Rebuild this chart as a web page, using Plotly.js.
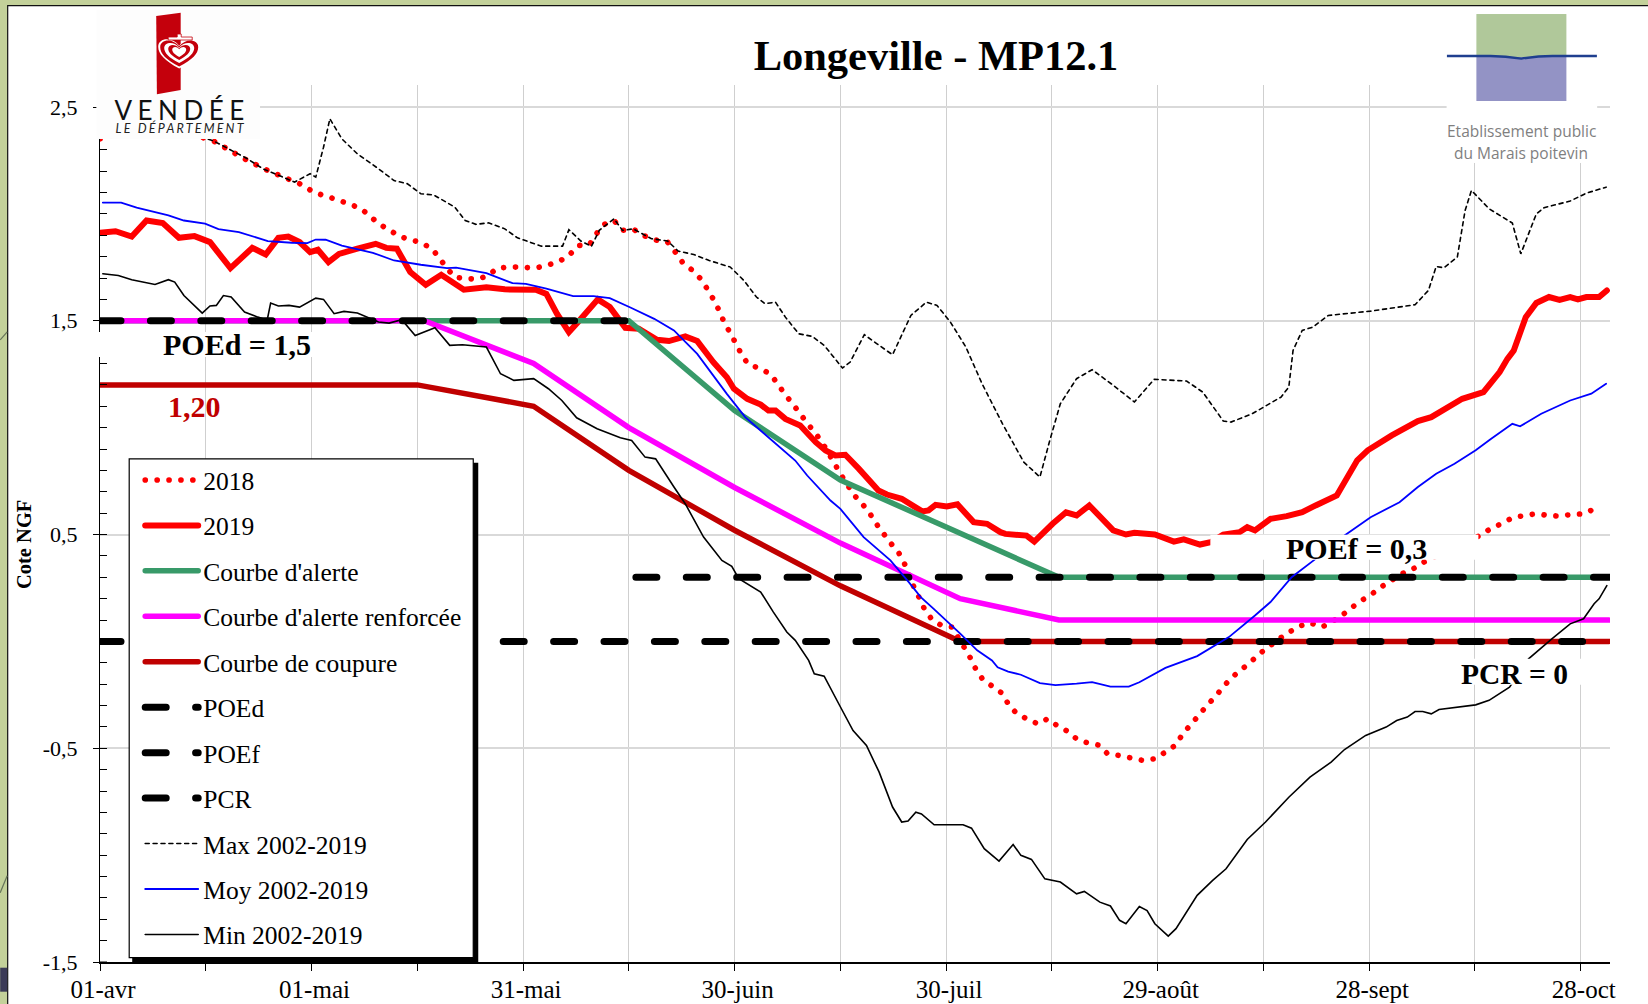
<!DOCTYPE html>
<html><head><meta charset="utf-8">
<script src="https://cdn.plot.ly/plotly-3.0.1.min.js"></script>
<style>
html,body{margin:0;padding:0;background:#C3D19A;overflow:hidden}
#chart{width:1648px;height:1004px}
.js-plotly-plot .plotly path.js-line{stroke-linecap:round}
g.annotation[data-index="5"] text{letter-spacing:5.5px}
g.annotation[data-index="6"] text{letter-spacing:2.2px}
</style></head><body><div id="chart"></div>
<script>
// ---- tick labels ----
const tickDays=[0,15,30,45,60,75,90,105,120,135,150,165,180,195,210];
const tickLabels=['01-avr','','01-mai','','31-mai','','30-juin','','30-juil','','29-août','','28-sept','','28-oct'];
const yTicks=[-1.5,-.5,.5,1.5,2.5];
const yTickLabels=['-1,5','-0,5','0,5','1,5','2,5'];
// ---- series (x = days after 1 April, y = Cote NGF) ----
const days2018=[0,8,16,20.9,23.8,27.2,28.9,30.2,33.5,36.9,38.2,39.5,41,42.5,45.5,47.1,48.2,49.2,50.3,52,53.7,55.1,56.3,58.1,59.8,61.5,63.1,64.8,66.3,67.8,69.4,70.4,71.5,72.9,74.1,75.6,77.3,79,80.5,81.6,82.6,83.9,85.2,86.1,87,87.8,88.5,89.4,90.2,91,91.9,93.6,95.1,96.1,97.1,98.2,99.2,100.3,101.4,102.4,104.2,105,106,106.9,108.1,109.2,110.1,111.1,112.2,113.3,114.1,115.4,116.2,116.9,117.9,119.3,120.8,122.6,123.5,124.3,125.2,126.5,127.9,128.8,129.9,131.4,133,134.4,135.7,137.2,138.6,140.2,141.6,142.9,144.6,146.3,147.9,149.6,151.1,152.6,153.5,154.6,155.8,156.9,158.1,159.2,160.3,161.7,163.1,164.3,165.7,167,168.5,170,171.6,173.3,174.6,176.1,177.6,178.9,180.4,181.8,183.4,184.9,186.5,187.9,195.7,197.2,198.7,200.3,202,203.7,205.4,207,208.7,210.5,212.1];
const level2018=[2.351,2.42,2.343,2.25,2.203,2.156,2.133,2.102,2.068,2.027,1.993,1.954,1.926,1.894,1.866,1.837,1.79,1.746,1.704,1.696,1.696,1.712,1.746,1.751,1.751,1.746,1.756,1.774,1.798,1.852,1.855,1.907,1.951,1.969,1.923,1.929,1.896,1.876,1.868,1.821,1.774,1.739,1.696,1.65,1.6,1.548,1.494,1.442,1.392,1.342,1.297,1.277,1.25,1.205,1.158,1.113,1.069,1.021,.976,.932,.831,.784,.733,.686,.644,.597,.55,.505,.457,.413,.363,.257,.203,.153,.106,.075,.067,-.03,-.081,-.136,-.178,-.209,-.242,-.292,-.334,-.362,-.386,-.362,-.393,-.42,-.459,-.476,-.485,-.526,-.534,-.546,-.557,-.549,-.518,-.484,-.435,-.393,-.347,-.303,-.261,-.217,-.175,-.136,-.1,-.061,-.027,.007,.04,.07,.087,.067,.09,.121,.16,.191,.222,.257,.29,.321,.344,.374,.495,.527,.55,.578,.589,.597,.589,.586,.594,.597,.623];
const days2019=[0,2.2,4.5,6.6,8.9,11.2,13.4,15.6,18.5,21.6,23.5,25.3,26.7,28.3,29.8,30.9,32.4,33.9,36.5,39.1,40.6,42.1,44,46.2,48.4,51.6,54.8,57.4,61.8,63.3,64.8,66.5,67.8,70.6,72.3,74.5,76.4,79,80.7,83,84.7,87,88.9,89.9,91.8,93.7,94.8,95.8,97.2,99.3,101.5,102.9,104.3,105.7,107.6,110.4,111.6,113.7,116.6,117.5,118.5,120.1,121.6,123.9,125.8,127.7,128.4,131.4,132.5,135.1,137,138.5,140.3,143.7,145.5,146.7,149.6,152.3,153.7,156,157.5,159.3,161.6,162.7,163.8,166,168.3,170.5,172.4,175.4,178.3,179.8,183.2,186.9,188.8,193.2,196.2,198.5,199.6,200.5,202.2,203.7,205.5,207,208.5,209.6,210.8,212.6,213.7];
const level2019=[1.912,1.919,1.894,1.969,1.957,1.888,1.896,1.868,1.746,1.841,1.81,1.888,1.894,1.868,1.821,1.832,1.774,1.813,1.837,1.86,1.841,1.837,1.728,1.668,1.715,1.645,1.657,1.647,1.645,1.626,1.533,1.447,1.494,1.6,1.564,1.467,1.463,1.411,1.405,1.427,1.405,1.306,1.236,1.182,1.135,1.108,1.08,1.08,1.041,1.01,.932,.893,.87,.873,.808,.706,.687,.667,.608,.613,.639,.631,.641,.558,.55,.511,.503,.495,.467,.55,.604,.589,.636,.519,.5,.508,.5,.467,.477,.453,.464,.5,.511,.534,.519,.573,.586,.604,.636,.683,.847,.894,.964,1.031,1.049,1.135,1.166,1.26,1.322,1.361,1.517,1.583,1.611,1.598,1.611,1.6,1.611,1.611,1.642];
const daysAlerte=[0,75,90,105,120,136,214];
const levelAlerte=[1.5,1.5,1.08,.755,.535,.3,.3];
const daysRenforcee=[0,46,61.5,75,90,105,122,136,214];
const levelRenforcee=[1.5,1.5,1.3,1,.72,.46,.2,.1,.1];
const daysCoupure=[0,45,61.5,75,90,105,122,214];
const levelCoupure=[1.2,1.2,1.1,.8,.52,.26,0,0];
const daysPOEd=[0,75]; const levelPOEd=[1.5,1.5];
const daysPOEf=[76,214]; const levelPOEf=[.3,.3];
const daysPCR=[0,214]; const levelPCR=[0,0];
const daysMax=[0,8,16,20.9,23.1,27.6,29.8,30.6,31.7,32.6,34.3,36.5,39.5,41.7,43.6,45.5,47.3,50.3,51.8,53.3,55.1,57.4,59.2,62.6,65.6,66.5,68.2,69.7,70.8,72.9,74.1,75.6,78.2,80.5,82,84.2,86.4,89.4,91.3,93.1,94.3,95.8,97.2,99.1,101,102.7,105.3,106.4,108.4,110.2,112.4,115,117.2,118.7,120.6,122.8,125.1,128,131,133.3,134.7,136.2,138.5,140.7,143.7,146.7,149.5,154.1,156.4,159.3,160.4,163.4,167.5,168.6,169.2,170.5,172,174.2,180.2,186.5,188.4,189.5,190.6,192.5,193.6,194.5,197,200.3,201.5,203.7,204.8,208.5,210.8,213.6];
const levelMax=[2.42,2.42,2.343,2.258,2.211,2.149,2.188,2.172,2.312,2.445,2.351,2.281,2.211,2.156,2.141,2.094,2.089,2.032,1.969,1.951,1.958,1.93,1.888,1.849,1.849,1.926,1.873,1.848,1.923,1.977,1.923,1.93,1.884,1.873,1.826,1.81,1.782,1.751,1.689,1.611,1.58,1.587,1.517,1.439,1.427,1.385,1.279,1.307,1.435,1.392,1.341,1.525,1.587,1.572,1.494,1.377,1.205,1.018,.839,.769,.94,1.112,1.229,1.271,1.198,1.12,1.226,1.218,1.166,1.031,1.026,1.065,1.143,1.19,1.361,1.455,1.47,1.525,1.545,1.575,1.642,1.754,1.748,1.798,2.016,2.11,2.024,1.957,1.813,2,2.029,2.06,2.097,2.125];
const daysMoy=[.4,3,5.2,9.7,11.9,14.9,16.8,19.7,23.8,27.2,29.4,30.6,32,34.3,38.7,41.7,45.5,49.2,50.5,54.8,58.5,60.4,63.3,67.1,70,72.3,75.3,78.6,81.4,84.7,88.9,91.5,98.6,100.3,103.6,105,108.3,112.1,114.7,116.4,118.2,122,124.4,126.5,127.3,128.8,130.6,133.3,135.5,138.5,140.7,143.3,145.9,147.4,151.1,155.6,160.1,163.8,166,169,172.4,176.5,180.2,184.3,186.9,189.5,192.1,195.1,197.3,200.3,201.4,204.4,208.5,211.5,213.6];
const levelMoy=[2.053,2.053,2.029,1.993,1.969,1.954,1.929,1.915,1.873,1.865,1.863,1.88,1.879,1.852,1.818,1.782,1.762,1.746,1.749,1.723,1.676,1.673,1.65,1.615,1.615,1.606,1.561,1.509,1.455,1.345,1.158,1.049,.846,.776,.659,.62,.488,.379,.277,.207,.153,.036,-.042,-.089,-.121,-.141,-.156,-.195,-.205,-.198,-.191,-.212,-.212,-.191,-.124,-.069,.02,.121,.184,.3,.386,.495,.581,.651,.722,.784,.831,.894,.948,1.018,1.006,1.065,1.127,1.159,1.205];
const daysMin=[.4,2.6,4.5,7.8,9.7,10.6,11.9,14.5,15.6,16.5,17.5,18.6,20.5,22.4,23.7,24.2,25.3,26.8,28.3,30.6,31.7,33.2,34.6,36.5,39.5,41,42.8,44.7,47.5,49.6,51.4,54.8,56.8,58.7,61.5,63.6,65.5,67.6,70.5,73.8,75.4,77.3,78.8,81.4,83,85.6,88.2,89.6,90.6,93.7,95.5,97.4,98.6,100.5,101.3,102.7,104.9,106.8,108.7,110.5,112.4,113.7,114.6,115.7,116.5,118.3,122.4,123.6,125.4,127.5,129.5,130.6,132.1,134,136.2,138.5,139.6,141.8,143.3,144.6,145.5,147.4,148.5,149.6,151.5,152.6,155.6,157.8,159.7,162.7,165.3,168.6,171.6,174.6,176.5,179.5,182.4,183.9,185.4,186.5,187.6,188.8,189.9,195.1,197,199.9,202.6,205.9,208.5,210.4,211.9,212.6,213.7];
const levelMin=[1.72,1.712,1.692,1.67,1.692,1.681,1.618,1.536,1.569,1.572,1.618,1.611,1.541,1.517,1.502,1.583,1.569,1.572,1.564,1.606,1.6,1.533,1.544,1.536,1.494,1.489,1.505,1.431,1.467,1.385,1.388,1.377,1.252,1.221,1.229,1.182,1.127,1.046,.995,.953,.94,.862,.854,.722,.644,.488,.379,.351,.293,.231,.137,.044,.005,-.089,-.152,-.163,-.3,-.417,-.487,-.612,-.775,-.845,-.84,-.799,-.807,-.858,-.858,-.874,-.97,-1.028,-.95,-1.001,-1.02,-1.111,-1.126,-1.181,-1.17,-1.22,-1.238,-1.305,-1.321,-1.24,-1.259,-1.321,-1.379,-1.344,-1.188,-1.118,-1.064,-.927,-.845,-.729,-.635,-.565,-.506,-.44,-.401,-.37,-.354,-.328,-.328,-.339,-.319,-.297,-.276,-.214,-.082,.012,.082,.106,.176,.199,.261];

// ---- page geometry: the plot rectangle in pixels ----
const W=1648,H=1004,L=99.8,R=1609.6,T=85,B=962.3;
const fx=p=>(p-L)/(R-L), fy=p=>(B-p)/(B-T);
const serif='"Liberation Serif","Times New Roman",serif';

function line(name,x,y,color,width,dash){
  return {type:'scatter',mode:'lines',name,x,y,legendgroup:name,hoverinfo:'skip',
          line:{color,width,dash:dash||'solid',simplify:false}};
}
const poeDash='21px,29.4px';
const traces=[
  line('2018',days2018,level2018,'#FF0000',5.6,'0.1px,11.8px'),
  line('2019',days2019,level2019,'#FF0000',6),
  line("Courbe d'alerte",daysAlerte,levelAlerte,'#389A69',5.5),
  line("Courbe d'alerte renforcée",daysRenforcee,levelRenforcee,'#FF00FF',5.5),
  line('Courbe de coupure',daysCoupure,levelCoupure,'#C00000',5.5),
  line('POEd',daysPOEd,levelPOEd,'#000000',7,poeDash),
  line('POEf',daysPOEf,levelPOEf,'#000000',7,poeDash),
  line('PCR',daysPCR,levelPCR,'#000000',7,poeDash),
  line('Max 2002-2019',daysMax,levelMax,'#000000',1.6,'4px,3.9px'),
  line('Moy 2002-2019',daysMoy,levelMoy,'#0000FF',1.8),
  line('Min 2002-2019',daysMin,levelMin,'#000000',1.6)
];

function pxRect(x0,y0,x1,y1,fill,layer,lineColor){
  return {type:'rect',xref:'paper',yref:'paper',x0:fx(x0),x1:fx(x1),y0:fy(y0),y1:fy(y1),
          fillcolor:fill,layer:layer||'above',line:{width:lineColor?1.2:0,color:lineColor||fill}};
}
function pxLine(x0,y0,x1,y1,color){
  return {type:'line',xref:'paper',yref:'paper',x0:fx(x0),x1:fx(x1),y0:fy(y0),y1:fy(y1),layer:'below',line:{width:1.2,color}};
}
const shapes=[
  pxRect(7.5,5.5,1680,1040,'#FFFFFF','below','#111111'),
  pxRect(0,968,7,992,'#3B3B57','below'),
  pxLine(0,340,7,332,'#66755A'),
  pxLine(0,893,7,876,'#66755A'),
  // inner half of the major y ticks
  ...yTicks.map(v=>({type:'line',xref:'paper',yref:'y',x0:0,x1:fx(106.8),y0:v,y1:v,layer:'below',line:{width:1,color:'#000'}})),
  pxRect(96,332,314,357,'#FFFFFF'),
  pxRect(1210,535,1478,560,'#FFFFFF'),
  pxRect(1457,659,1581,685,'#FFFFFF'),
  // legend frame with its drop shadow
  pxRect(132,463,478,962.3,'#000000'),
  pxRect(129,459,473,958,'#FFFFFF','above','#000000')
];
function note(text,x,y,size,opts){
  return Object.assign({text,xref:'paper',yref:'paper',x:fx(x),y:fy(y),xanchor:'center',yanchor:'middle',
    showarrow:false,font:Object.assign({family:serif,size,color:'#000000'},(opts||{}).font)},(opts||{}).a);
}
const annotations=[
  note('<b>POEd = 1,5</b>',236.5,345,30),
  note('<b>1,20</b>',194,406.5,30,{font:{color:'#C00000'}}),
  note('<b>POEf = 0,3</b>',1356,549,30),
  note('<b>PCR = 0</b>',1514,674,29.5),
  note('<b>Cote NGF</b>',24,545,20.5,{a:{textangle:-90}}),
  note('VENDÉE',182,110,26,{font:{family:'Lato,"Open Sans",sans-serif',color:'#111111'}}),
  note('<i>LE DÉPARTEMENT</i>',181,128,12.5,{font:{family:'Lato,"Open Sans",sans-serif',color:'#222222'}}),
  note('Etablissement public',1521,131,15.5,{font:{family:'"Open Sans",sans-serif',color:'#7F7F7F'}}),
  note('du Marais poitevin',1521,153,15.5,{font:{family:'"Open Sans",sans-serif',color:'#7F7F7F'}})
];
const heart=(cy,w,h)=>`M179 ${cy+h} C${179-w*.7} ${cy+h*.55} ${179-w} ${cy+h*.15} ${179-w} ${cy-h*.25} C${179-w} ${cy-h*.75} ${179-w*.35} ${cy-h*.85} 179 ${cy-h*.3} C${179+w*.35} ${cy-h*.85} ${179+w} ${cy-h*.75} ${179+w} ${cy-h*.25} C${179+w} ${cy+h*.15} ${179+w*.7} ${cy+h*.55} 179 ${cy+h}Z`;
const logoVendee='data:image/svg+xml,'+encodeURIComponent(
 '<svg xmlns="http://www.w3.org/2000/svg" width="164" height="129" viewBox="96 10 164 129">'+
 '<rect x="96" y="10" width="164" height="129" fill="#FDFDFD"/>'+
 '<polygon points="156,16 180.5,12.7 180.5,90 156.7,94.3" fill="#C4000C"/>'+
 `<path d="${heart(51,21,17.5)}" fill="#fff"/>`+
 `<path d="${heart(51,19,15.5)}" fill="#C4000C"/>`+
 `<path d="${heart(51,15,12)}" fill="#fff"/>`+
 `<path d="${heart(51,11,9)}" fill="#C4000C"/>`+
 `<path d="${heart(51,7,6)}" fill="#fff"/>`+
 '<path d="M177 34 H181 V37 H192 V40 H168 V37 H177Z" fill="#fff" stroke="#C4000C" stroke-width=".8"/></svg>');
const logoMarais='data:image/svg+xml,'+encodeURIComponent(
 '<svg xmlns="http://www.w3.org/2000/svg" width="151" height="155" viewBox="1446 8 151 155">'+
 '<rect x="1446" y="8" width="151" height="155" fill="#FFFFFF"/>'+
 '<rect x="1476" y="14" width="90" height="43" fill="#B0C89A"/>'+
 '<rect x="1476" y="57" width="90" height="44" fill="#9393C5"/>'+
 '<path d="M1446.5 56 H1490 Q1505 56 1521 58.6 Q1537 56 1552 56 H1596.5" fill="none" stroke="#1F3F8F" stroke-width="2.4"/></svg>');
const layout={
  width:W,height:H,paper_bgcolor:'#C3D19A',plot_bgcolor:'rgba(0,0,0,0)',
  margin:{l:L,r:W-R,t:T,b:H-B,pad:0},
  font:{family:serif,color:'#000000'},
  title:{text:'<b>Longeville - MP12.1</b>',font:{family:serif,size:42.5,color:'#000000'},
         xref:'container',yref:'container',x:936/W,y:1-55/H,xanchor:'center',yanchor:'middle'},
  xaxis:{range:[0,214.15],tickmode:'array',tickvals:tickDays,ticktext:tickLabels,ticks:'outside',ticklen:7,
         tickcolor:'#000',tickwidth:1,tickfont:{size:25,family:serif},ticklabelstandoff:-3,ticklabelshift:3,
         showgrid:true,gridcolor:'#CFCFCF',gridwidth:1,showline:true,linecolor:'#000',linewidth:1.5,zeroline:false,
         title:{text:''}},
  yaxis:{range:[-1.5,2.603],tickmode:'array',tickvals:yTicks,ticktext:yTickLabels,ticks:'outside',ticklen:6,
         tickcolor:'#000',tickwidth:1,tickfont:{size:22,family:serif},ticklabelstandoff:11,
         minor:{tickmode:'linear',tick0:-1.5,dtick:.1,ticks:'inside',ticklen:7,tickcolor:'#000',tickwidth:1,showgrid:false},
         showgrid:true,gridcolor:'#D9D9D9',gridwidth:2,showline:true,linecolor:'#000',linewidth:1,zeroline:false,
         title:{text:''}},
  legend:{x:fx(140),y:fy(457),xanchor:'left',yanchor:'top',bgcolor:'rgba(0,0,0,0)',borderwidth:0,
          font:{family:serif,size:25.5,color:'#000'},itemwidth:53,tracegroupgap:9.3,traceorder:'grouped',
          entrywidth:270,entrywidthmode:'pixels',itemclick:false,itemdoubleclick:false},
  shapes,annotations,
  images:[
   {source:logoVendee,xref:'paper',yref:'paper',x:fx(96),y:fy(10),sizex:164/(R-L),sizey:129/(B-T),xanchor:'left',yanchor:'top',sizing:'stretch',layer:'above'},
   {source:logoMarais,xref:'paper',yref:'paper',x:fx(1446),y:fy(8),sizex:151/(R-L),sizey:155/(B-T),xanchor:'left',yanchor:'top',sizing:'stretch',layer:'above'}
  ]
};
Plotly.newPlot('chart',traces,layout,{displayModeBar:false});
</script></body></html>
